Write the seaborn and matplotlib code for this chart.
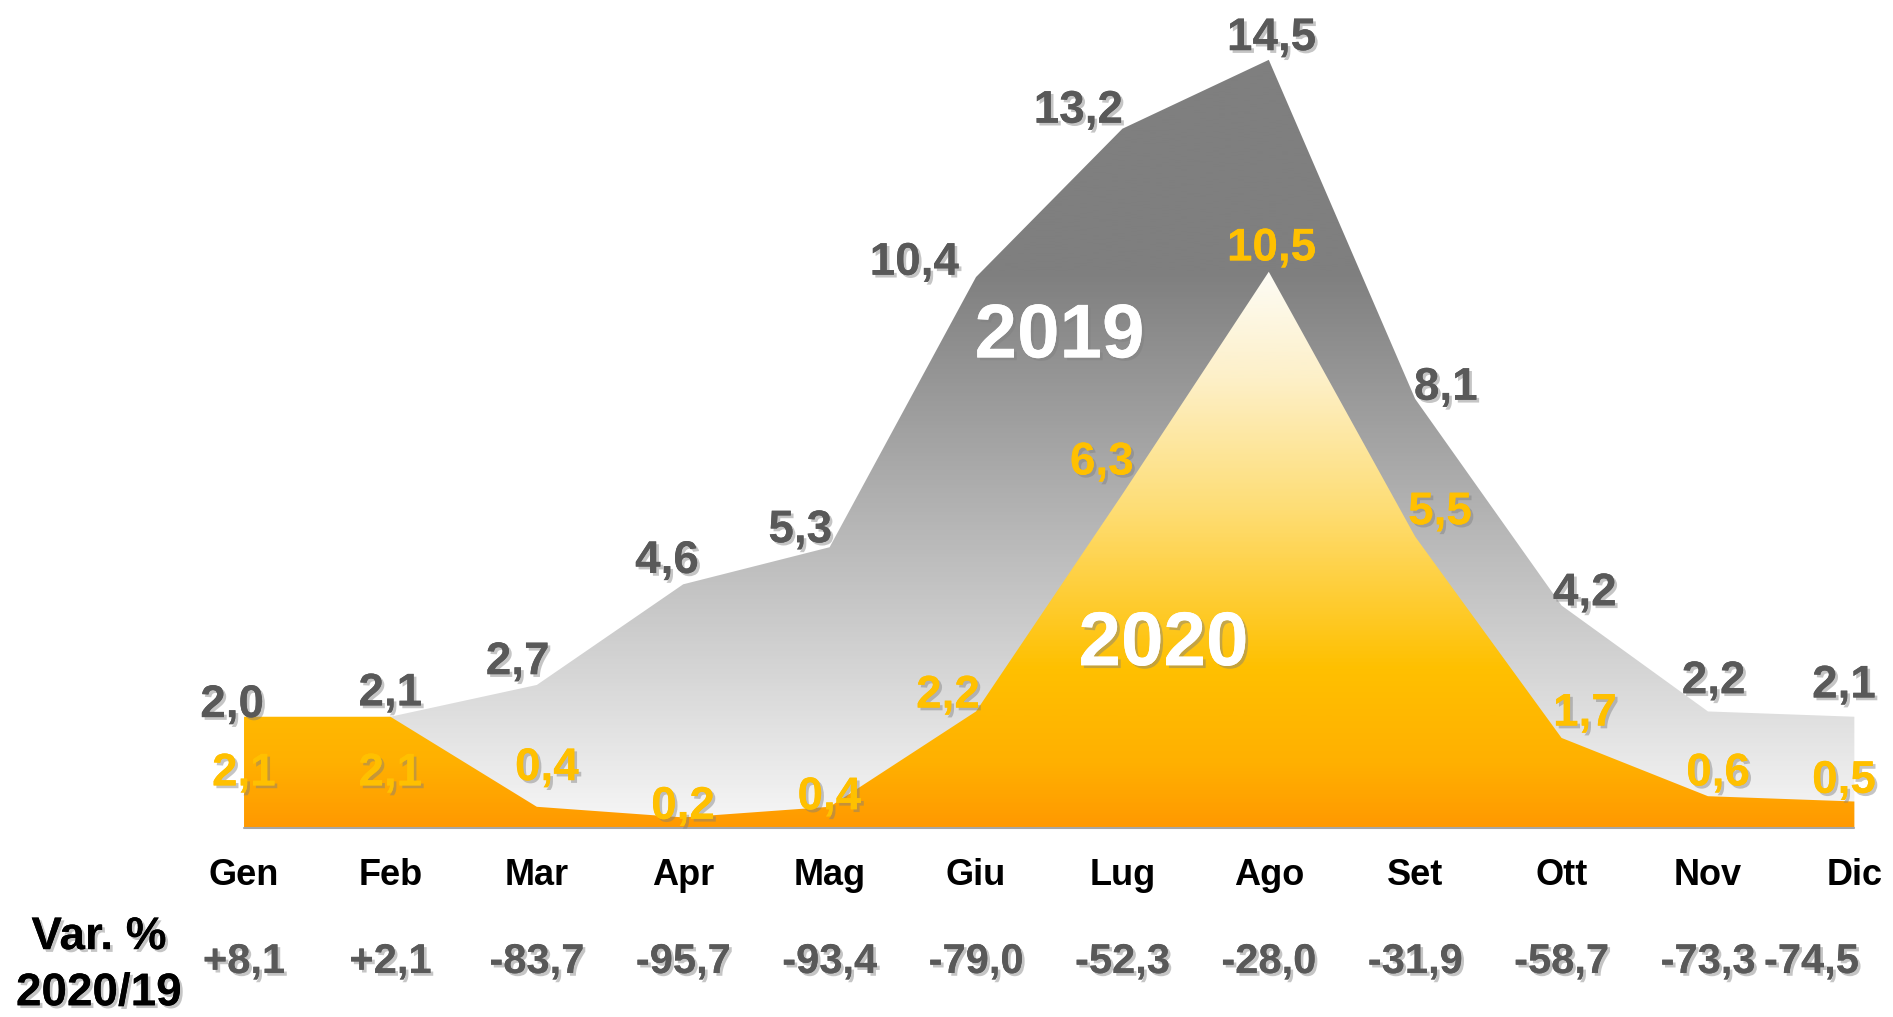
import numpy as np
import matplotlib
matplotlib.use('Agg')
import matplotlib.pyplot as plt
import matplotlib.patheffects as pe
from matplotlib.colors import LinearSegmentedColormap
from matplotlib.patches import PathPatch
import seaborn as sns

months = ['Gen', 'Feb', 'Mar', 'Apr', 'Mag', 'Giu', 'Lug', 'Ago', 'Set', 'Ott', 'Nov', 'Dic']
v2019 = [2.0, 2.1, 2.7, 4.6, 5.3, 10.4, 13.2, 14.5, 8.1, 4.2, 2.2, 2.1]
v2020 = [2.1, 2.1, 0.4, 0.2, 0.4, 2.2, 6.3, 10.5, 5.5, 1.7, 0.6, 0.5]
var_pct = ['+8,1', '+2,1', '-83,7', '-95,7', '-93,4', '-79,0', '-52,3', '-28,0', '-31,9', '-58,7', '-73,3', '-74,5']

# label offsets (dx in months, dy in value units)
off2019 = [(-0.08, 0.32), (0, 0.44), (-0.13, 0.43), (-0.11, 0.44), (-0.2, 0.32), (-0.42, 0.27),
           (-0.3, 0.34), (0.02, 0.41), (0.21, 0.21), (0.16, 0.23), (0.04, 0.57), (-0.07, 0.59)]
off2020 = [(0, -1.07), (0, -1.07), (0.07, 0.73), (0, 0.2), (0, 0.18), (-0.19, 0.3),
           (-0.14, 0.6), (0.02, 0.44), (0.17, 0.46), (0.16, 0.46), (0.07, 0.43), (-0.07, 0.39)]

sns.set_theme(style='white')
plt.rcParams['font.family'] = ['Liberation Sans', 'DejaVu Sans']

x = np.arange(len(months))
fig = plt.figure(figsize=(18.93, 10.17), dpi=100)
ax = fig.add_axes([0, 0, 1, 1])

sns.lineplot(x=x, y=v2019, ax=ax, lw=0)
sns.lineplot(x=x, y=v2020, ax=ax, lw=0)

def gradient_area(vals, stops, z):
    poly = ax.fill_between(x, 0, vals, facecolor='none', edgecolor='none')
    patch = PathPatch(poly.get_paths()[0], transform=ax.transData, fc='none', ec='none')
    ax.add_patch(patch)
    top = max(vals)
    cmap = LinearSegmentedColormap.from_list('g', [(s / top, c) for s, c in stops])
    grad = np.linspace(0, 1, 400).reshape(-1, 1)
    im = ax.imshow(grad, extent=[x[0], x[-1], 0, top], origin='lower', aspect='auto',
                   cmap=cmap, zorder=z, interpolation='bilinear')
    im.set_clip_path(patch)

gradient_area(v2019, [(0, '#f7f7f7'), (10.5, '#7f7f7f'), (14.5, '#7f7f7f')], 1)
gradient_area(v2020, [(0, '#ff9900'), (1.2, '#ffb000'), (3.0, '#ffc000'), (6.0, '#fedd74'),
                      (8.5, '#fdf0c8'), (10.5, '#fdfcf5')], 2)

ax.plot([x[0], x[-1]], [0, 0], color='#a6a6a6', lw=1.5, zorder=3)

shadow = [pe.withSimplePatchShadow(offset=(2, -2), shadow_rgbFace='#7f7f7f', alpha=0.45), pe.Normal()]

def label(xx, yy, s, color, size, **kw):
    ax.text(xx, yy, s, color=color, fontsize=size, fontweight='bold', ha=kw.pop('ha', 'center'),
            va='center', path_effects=shadow, zorder=5, **kw)

for i in range(len(months)):
    label(x[i] + off2019[i][0], v2019[i] + off2019[i][1], f'{v2019[i]:.1f}'.replace('.', ','), '#595959', 33)
    label(x[i] + off2020[i][0], v2020[i] + off2020[i][1], f'{v2020[i]:.1f}'.replace('.', ','), '#ffc000', 33)
    ax.text(x[i], -0.9, months[i], color='black', fontsize=26, fontweight='bold', ha='center', va='center')
    if i == len(months) - 1:
        label(x[i] + 0.03, -2.53, var_pct[i], '#595959', 30, ha='right')
    else:
        label(x[i], -2.53, var_pct[i], '#595959', 30)

label(5.57, 9.25, '2019', 'white', 55)
label(6.28, 3.44, '2020', 'white', 55)
label(-0.99, -2.06, 'Var. %', 'black', 33)
label(-0.99, -3.12, '2020/19', 'black', 33)

ax.set_xlim(-1.667, 11.264)
ax.set_ylim(-3.568, 15.63)
ax.axis('off')
plt.savefig('out.png', dpi=100)
